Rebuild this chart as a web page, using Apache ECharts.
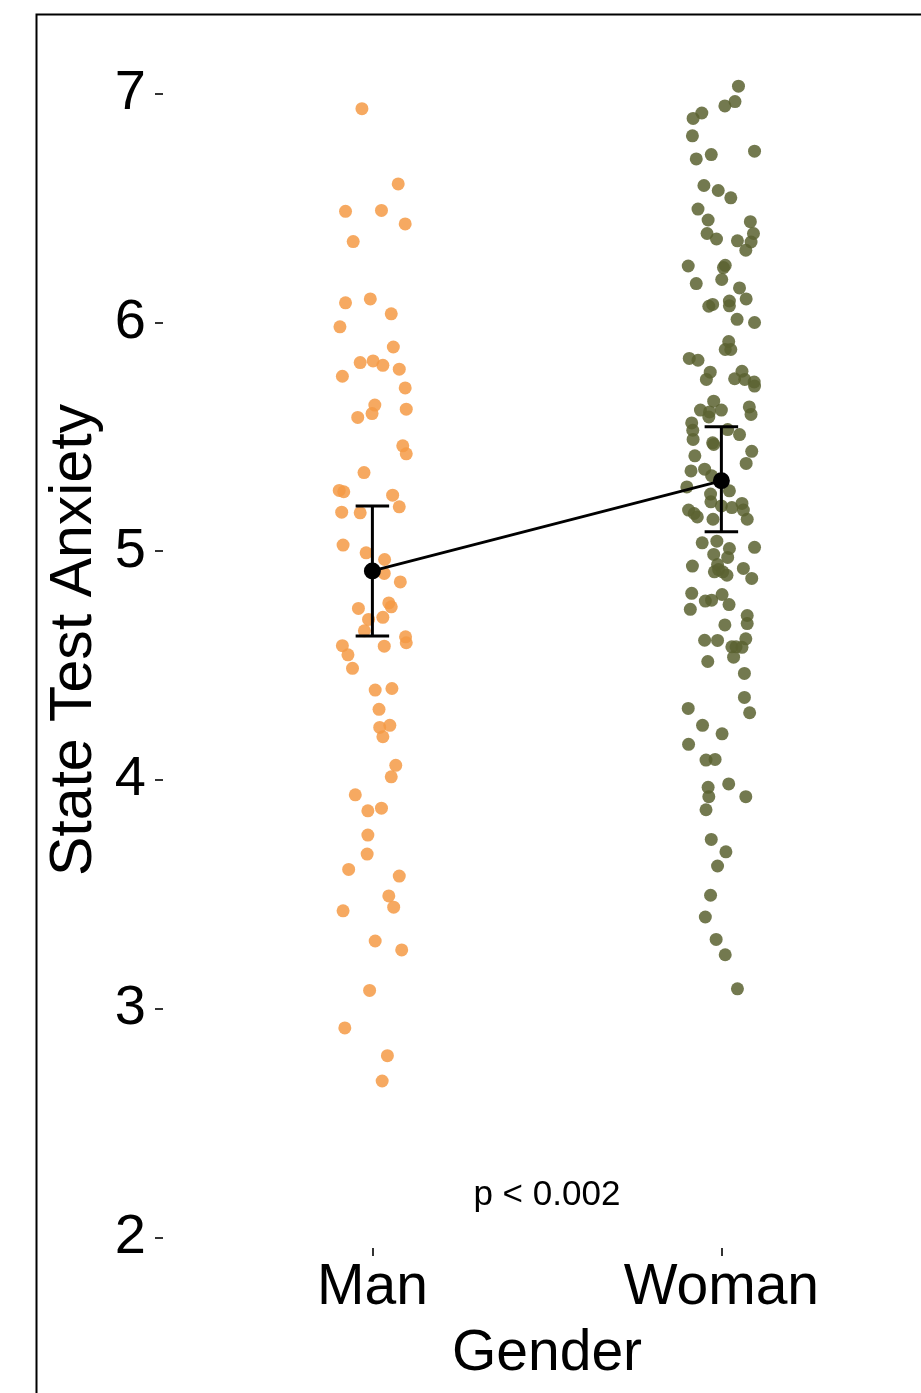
<!DOCTYPE html>
<html>
<head>
<meta charset="utf-8">
<script src="https://cdn.jsdelivr.net/npm/echarts@6/dist/echarts.min.js"></script>
<style>
html,body{margin:0;padding:0;background:#fff;}
#chart{width:921px;height:1393px;}
</style>
</head>
<body>
<div id="chart"></div>
<script>
// ---- data ----
const categories = ['Man', 'Woman'];
const yTicks = [2, 3, 4, 5, 6, 7];

// State Test Anxiety, Man group (values) and horizontal jitter offsets
const manValues = [6.935,6.606,6.486,6.490,6.431,6.354,6.086,6.103,6.038,5.981,
  5.893,5.825,5.832,5.813,5.796,5.765,5.714,5.639,5.602,5.585,5.621,5.461,5.426,5.344,
  5.266,5.260,5.245,5.194,5.171,5.168,5.027,4.993,4.964,4.903,4.866,
  4.750,4.774,4.757,4.702,4.711,4.652,4.626,4.600,4.587,4.585,4.547,4.488,4.393,4.400,
  4.309,4.230,4.239,4.189,4.064,4.014,3.935,3.865,3.877,3.759,
  3.676,3.609,3.580,3.493,3.444,3.428,3.296,3.257,3.080,2.916,2.795,2.684];
const manJitter = [-0.030,0.074,-0.077,0.026,0.094,-0.055,-0.077,-0.006,0.054,-0.093,
  0.060,-0.035,0.002,0.030,0.077,-0.086,0.094,0.007,-0.001,-0.042,0.097,0.087,0.097,-0.024,
  -0.095,-0.082,0.058,0.077,-0.088,-0.035,-0.084,-0.018,0.035,0.034,0.080,
  -0.040,0.047,0.054,-0.011,0.030,-0.023,0.095,0.097,-0.086,0.034,-0.070,-0.057,0.008,0.056,
  0.019,0.021,0.050,0.030,0.067,0.054,-0.049,-0.013,0.026,-0.013,
  -0.015,-0.068,0.077,0.047,0.061,-0.084,0.008,0.084,-0.008,-0.079,0.043,0.028];

// Woman group
const womanValues = [7.033,6.966,6.947,6.916,6.892,6.816,6.749,6.715,6.734,6.599,
  6.577,6.545,6.496,6.448,6.441,6.389,6.389,6.365,6.357,6.352,6.316,6.247,6.240,6.250,
  6.188,6.170,6.151,6.103,6.094,6.079,6.071,6.073,
  6.014,6.000,5.917,5.882,5.882,5.843,5.835,5.783,5.751,5.787,5.754,5.751,5.740,5.722,
  5.656,5.617,5.609,5.617,5.587,5.631,5.598,5.561,5.529,5.489,5.532,5.510,5.474,5.467,
  5.437,5.417,5.384,5.351,5.359,5.330,5.281,5.264,5.250,5.216,5.198,5.191,5.209,5.180,
  5.180,5.165,5.150,5.140,5.140,
  5.037,5.044,5.012,5.017,4.986,4.973,4.935,4.942,4.920,4.910,4.910,4.895,4.925,4.881,
  4.816,4.782,4.786,4.811,4.767,4.746,4.719,4.684,4.678,4.611,4.610,4.617,4.582,4.580,
  4.582,4.537,4.518,4.466,4.361,4.313,4.294,4.239,4.202,4.156,4.087,4.090,
  3.968,3.983,3.927,3.927,3.870,3.740,3.686,3.624,3.496,3.401,3.303,3.236,3.087];
const womanJitter = [0.049,0.039,0.010,-0.056,-0.081,-0.083,0.095,-0.072,-0.029,-0.050,
  -0.009,0.027,-0.067,-0.038,0.083,0.092,-0.041,-0.014,0.046,0.085,0.070,-0.095,0.006,0.011,
  0.001,-0.072,0.052,0.071,0.023,-0.025,-0.036,0.023,
  0.045,0.095,0.021,0.011,0.027,-0.092,-0.067,-0.032,-0.043,0.059,0.038,0.067,0.094,0.095,
  -0.022,-0.060,-0.034,0.000,-0.036,0.080,0.085,-0.085,-0.082,-0.081,0.018,0.052,-0.025,-0.022,
  0.087,-0.076,0.071,-0.087,-0.048,-0.028,-0.099,0.023,-0.031,-0.030,0.000,0.030,0.059,0.063,
  -0.094,-0.078,-0.069,-0.024,0.074,
  -0.055,-0.013,0.023,0.095,-0.022,0.018,-0.083,-0.011,-0.008,-0.020,0.004,0.016,0.063,0.087,
  -0.085,-0.046,-0.028,0.002,0.022,-0.089,0.074,0.074,0.010,-0.048,-0.011,0.070,0.030,0.059,
  0.042,0.035,-0.039,0.066,0.066,-0.095,0.081,-0.054,0.002,-0.094,-0.044,-0.018,
  -0.038,0.021,-0.036,0.070,-0.044,-0.029,0.013,-0.011,-0.031,-0.046,-0.015,0.011,0.046];

// group means and error bar bounds
const means = [4.914, 5.308];
const errLow = [4.629, 5.085];
const errHigh = [5.198, 5.544];
const pLabel = 'p < 0.002';
const pLabelY = 2.186;

// ---- build ----
const FONT = '"Liberation Sans", Arial, sans-serif';
const manData = manValues.map((v, i) => [1 + manJitter[i], v]);
const womanData = womanValues.map((v, i) => [2 + womanJitter[i], v]);
const meanData = means.map((m, i) => [i + 1, m]);
const errData = means.map((m, i) => [i + 1, errLow[i], errHigh[i]]);

const chart = echarts.init(document.getElementById('chart'), null, {renderer: 'canvas'});
chart.setOption({
  animation: false,
  backgroundColor: '#ffffff',
  textStyle: {fontFamily: FONT},
  graphic: [{
    type: 'rect', left: 34, top: 12, z: 100,
    shape: {width: 1000, height: 1500},
    style: {fill: 'none', stroke: '#000', lineWidth: 2}
  }],
  grid: {left: 163, top: 32, right: 0, height: 1216, containLabel: false},
  xAxis: {
    type: 'value', min: 0.4, max: 2.572,
    name: 'Gender', nameLocation: 'middle', nameGap: 78,
    nameTextStyle: {fontSize: 57, color: '#000', fontFamily: FONT, padding: [0, 0, 0, 10]},
    axisLine: {show: false},
    splitLine: {show: false},
    axisTick: {show: true, customValues: [1, 2], length: 8, lineStyle: {color: '#333', width: 2}},
    axisLabel: {show: true, customValues: [1, 2], margin: 12, fontSize: 57, color: '#000', fontFamily: FONT,
      formatter: v => categories[Math.round(v) - 1]}
  },
  yAxis: {
    type: 'value', min: 1.954, max: 7.27,
    name: 'State Test Anxiety', nameLocation: 'middle', nameGap: 52, nameRotate: 90,
    nameTextStyle: {fontSize: 59, color: '#000', fontFamily: FONT},
    axisLine: {show: false},
    splitLine: {show: false},
    axisTick: {show: true, customValues: yTicks, length: 8, lineStyle: {color: '#333', width: 2}},
    axisLabel: {show: true, customValues: yTicks, margin: 17, fontSize: 56, color: '#000', fontFamily: FONT}
  },
  series: [
    {type: 'scatter', data: manData, symbolSize: 13,
      itemStyle: {color: '#F49A45', opacity: 0.85}, z: 2},
    {type: 'scatter', data: womanData, symbolSize: 13,
      itemStyle: {color: '#5B6230', opacity: 0.85}, z: 2},
    {type: 'custom', z: 5, data: errData,
      renderItem: function (params, api) {
        const x = api.value(0);
        const lo = api.coord([x, api.value(1)]);
        const hi = api.coord([x, api.value(2)]);
        const capL = api.coord([x - 0.048, api.value(1)])[0];
        const capR = api.coord([x + 0.048, api.value(1)])[0];
        const st = {stroke: '#000', lineWidth: 3};
        return {type: 'group', children: [
          {type: 'line', shape: {x1: lo[0], y1: lo[1], x2: hi[0], y2: hi[1]}, style: st},
          {type: 'line', shape: {x1: capL, y1: lo[1], x2: capR, y2: lo[1]}, style: st},
          {type: 'line', shape: {x1: capL, y1: hi[1], x2: capR, y2: hi[1]}, style: st}
        ]};
      }},
    {type: 'line', data: meanData, z: 6, symbol: 'circle', symbolSize: 17,
      lineStyle: {color: '#000', width: 2.8}, itemStyle: {color: '#000'}},
    {type: 'scatter', data: [[1.5, pLabelY]], symbolSize: 0, z: 7,
      itemStyle: {opacity: 1, color: '#000'},
      label: {show: true, position: 'inside', formatter: pLabel, fontSize: 35, color: '#000',
        opacity: 1, textBorderWidth: 0, fontFamily: FONT}}
  ]
});
</script>
</body>
</html>
